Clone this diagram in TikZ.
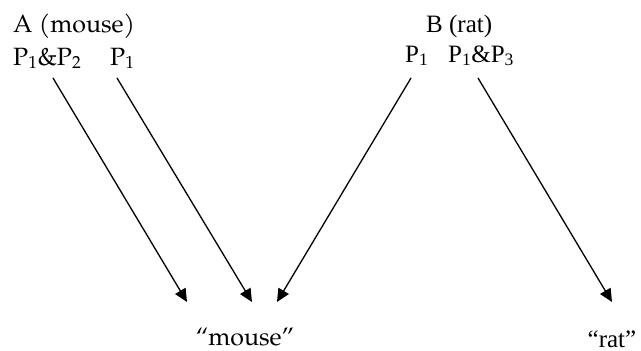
\documentclass[tikz,border=0pt]{standalone}
\usepackage{fontspec}
\newfontfamily\timesf{Liberation Serif}
\newfontfamily\palf[Extension=.otf,UprightFont=*-regular]{texgyrepagella}
\usetikzlibrary{arrows.meta}
\tikzset{
  lbl/.style={inner sep=0pt, anchor=base west, font=\fontsize{25}{30}\selectfont\palf},
  lblt/.style={lbl, font=\fontsize{25}{30}\selectfont\timesf},
  conn/.style={line width=1.3pt, -{Triangle[length=13pt,width=12pt]}}
}
\begin{document}
\begin{tikzpicture}[x=1pt,y=-1pt]
\useasboundingbox (0,0) rectangle (641,351);
\node[lbl] (A) at (13,32) {A (mouse)};
\node[lbl] (Apq) at (13,65) {P\textsubscript{1}\&P\textsubscript{2}};
\node[lbl] (Ap) at (110,65) {P\textsubscript{1}};
\node[lblt] (B) at (426,32) {B (rat)};
\node[lblt] (Bp) at (405,62) {P\textsubscript{1}};
\node[lblt] (Bpq) at (448,62) {P\textsubscript{1}\&P\textsubscript{3}};
\node[lbl, anchor=base] (mouse) at (245,345) {“mouse”};
\node[lblt, anchor=base] (rat) at (612,347) {“rat”};
\coordinate (s1) at (53,78);
\coordinate (e1) at (187,302);
\coordinate (s2) at (117,78);
\coordinate (e2) at (252,302);
\coordinate (s3) at (411,78);
\coordinate (e3) at (277,302);
\coordinate (s4) at (478,78);
\coordinate (e4) at (612,302);
\draw[conn] (s1) -- (e1);
\draw[conn] (s2) -- (e2);
\draw[conn] (s3) -- (e3);
\draw[conn] (s4) -- (e4);
\end{tikzpicture}
\end{document}
